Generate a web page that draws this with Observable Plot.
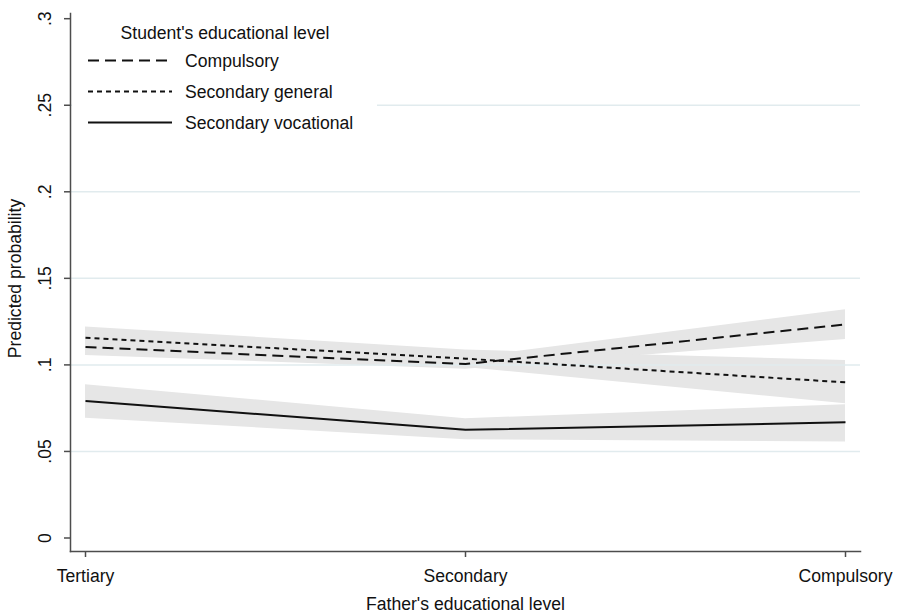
<!DOCTYPE html>
<html>
<head>
<meta charset="utf-8">
<script src="https://cdn.jsdelivr.net/npm/d3@7"></script>
<script src="https://cdn.jsdelivr.net/npm/@observablehq/plot@0.6"></script>
<style>
  html, body { margin: 0; padding: 0; background: white; }
  #chart { width: 900px; height: 615px; }
</style>
</head>
<body>
<div id="chart"></div>
<script>
// ---- data ----
const fatherLevels = ["Tertiary", "Secondary", "Compulsory"];
const studentLevels = ["Compulsory", "Secondary general", "Secondary vocational"];

const compulsoryMean = [0.1103, 0.1005, 0.1234];
const compulsoryLo   = [0.1055, 0.0975, 0.1147];
const compulsoryHi   = [0.1155, 0.1040, 0.1319];

const generalMean = [0.1157, 0.1036, 0.0899];
const generalLo   = [0.1100, 0.0985, 0.0776];
const generalHi   = [0.1219, 0.1086, 0.1026];

const vocationalMean = [0.0791, 0.0625, 0.0668];
const vocationalLo   = [0.0692, 0.0568, 0.0554];
const vocationalHi   = [0.0886, 0.0689, 0.0770];

const yTicks = [0, 0.05, 0.1, 0.15, 0.2, 0.25, 0.3];
const yTickLabels = ["0", ".05", ".1", ".15", ".2", ".25", ".3"];
const gridTicks = [0.05, 0.1, 0.15, 0.2, 0.25];

const titleY = "Predicted probability";
const titleX = "Father's educational level";
const legendTitle = "Student's educational level";
const dashes = ["11,6", "5,4", null];

// ---- build table ----
const means = [compulsoryMean, generalMean, vocationalMean];
const los = [compulsoryLo, generalLo, vocationalLo];
const his = [compulsoryHi, generalHi, vocationalHi];
const rows = [];
studentLevels.forEach((s, i) => {
  fatherLevels.forEach((f, j) => {
    rows.push({series: s, cat: f, mean: means[i][j], lo: los[i][j], hi: his[i][j]});
  });
});
const tickRows = yTicks.map((v, i) => ({v, label: yTickLabels[i]}));

const axisColor = "#4d4d4d";
const lineColor = "#111";

const lineMarks = studentLevels.map((s, i) =>
  Plot.line(rows.filter(d => d.series === s), {
    x: "cat", y: "mean", stroke: lineColor, strokeWidth: 2,
    strokeDasharray: dashes[i] || undefined, strokeLinecap: "butt"
  })
);

const chart = Plot.plot({
  width: 900,
  height: 615,
  marginTop: 13,
  marginBottom: 64,
  marginLeft: 70,
  marginRight: 40,
  style: {
    fontFamily: "'Liberation Sans', Arial, sans-serif",
    fontSize: "17.6px",
    color: "#111",
    background: "white",
    overflow: "visible"
  },
  x: {type: "point", domain: fatherLevels, padding: 0, inset: 15},
  y: {domain: [-0.0078, 0.303]},
  marks: [
    Plot.areaY(rows, {x: "cat", y1: "lo", y2: "hi", z: "series", fill: "#e6e6e6", curve: "linear"}),
    Plot.ruleY(gridTicks, {stroke: "#e1ebee", strokeWidth: 1.5}),
    ...lineMarks,
    Plot.frame({anchor: "left", stroke: axisColor, strokeWidth: 1.5}),
    Plot.frame({anchor: "bottom", stroke: axisColor, strokeWidth: 1.5}),
    Plot.axisY({ticks: yTicks, tickSize: 6, tickFormat: () => "", label: null, stroke: axisColor, strokeWidth: 1.5}),
    Plot.text(tickRows, {y: "v", text: "label", frameAnchor: "left", rotate: -90, dx: -25, textAnchor: "middle", lineAnchor: "middle", fill: "#111"}),
    Plot.axisX({tickSize: 6, tickPadding: 11.5, label: null, stroke: axisColor, strokeWidth: 1.5, fill: "#111"}),
    Plot.text([titleX], {text: d => d, frameAnchor: "bottom", dy: 53, textAnchor: "middle", lineAnchor: "middle", fill: "#111"}),
    Plot.text([titleY], {text: d => d, frameAnchor: "left", rotate: -90, dx: -55, dy: -4, textAnchor: "middle", lineAnchor: "middle", fill: "#111"})
  ]
});

// ---- legend inside plot region (top-left) ----
const svg = d3.select(chart);
const lg = svg.append("g").attr("font-family", "'Liberation Sans', Arial, sans-serif").attr("font-size", "17.6px");
lg.append("rect").attr("x", 72).attr("y", 14).attr("width", 305).attr("height", 136).attr("fill", "white");
lg.append("text").attr("x", 225).attr("y", 33).attr("dy", "0.35em").attr("text-anchor", "middle").attr("fill", "#111").text(legendTitle);
studentLevels.forEach((s, i) => {
  const y = 60.5 + i * 31;
  const l = lg.append("line").attr("x1", 88).attr("x2", 172).attr("y1", y).attr("y2", y)
    .attr("stroke", lineColor).attr("stroke-width", 2);
  if (dashes[i]) l.attr("stroke-dasharray", dashes[i]);
  lg.append("text").attr("x", 185).attr("y", y).attr("dy", "0.35em").attr("text-anchor", "start").attr("fill", "#111").text(s);
});

document.getElementById("chart").appendChild(chart);
</script>
</body>
</html>
